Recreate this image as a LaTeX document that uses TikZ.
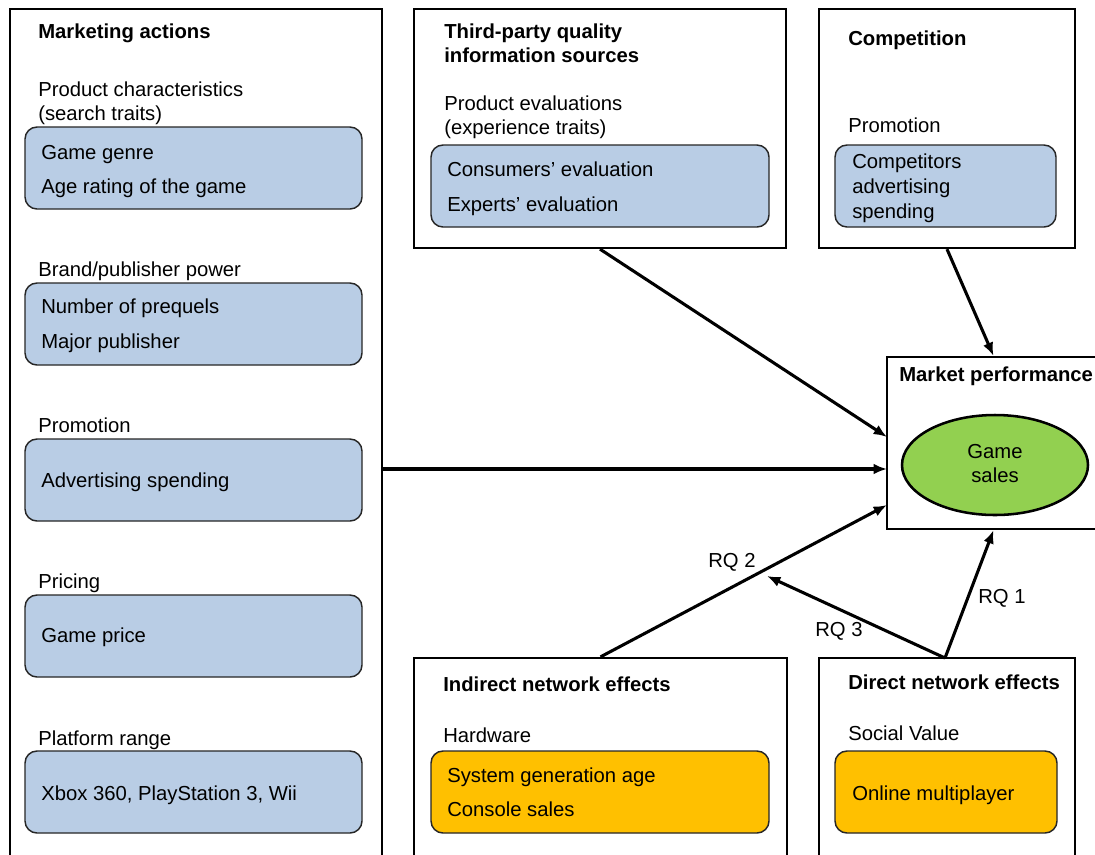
\documentclass[tikz,border=0pt]{standalone}
\usepackage{fontspec}
\setmainfont{Liberation Sans}
\usetikzlibrary{fit,arrows.meta}
\definecolor{boxblue}{HTML}{B9CDE5}
\definecolor{boxyellow}{HTML}{FFC000}
\definecolor{salesgreen}{HTML}{92D050}
\tikzset{
  outer/.style={draw=black, line width=1.7pt, inner sep=0pt, fill=white},
  innerblue/.style={draw=black!85, line width=1.1pt, rounded corners=9pt, fill=boxblue, inner sep=0pt},
  inneryellow/.style={draw=black!85, line width=1.1pt, rounded corners=9pt, fill=boxyellow, inner sep=0pt},
  txt/.style={anchor=base west, inner sep=0pt, font=\fontsize{15.2}{18}\selectfont},
  ttl/.style={anchor=base west, inner sep=0pt, font=\fontsize{15.2}{18}\selectfont\bfseries},
  conn/.style={line width=2.3pt, -{Latex[length=10pt,width=8pt]}},
}
\begin{document}
\begin{tikzpicture}[x=0.75pt,y=-0.75pt]
\useasboundingbox (0,0) rectangle (1095,854);
\clip (0,0) rectangle (1095,854);
% outer boxes
\node[outer, fit={(10,9) (382,900)}] (mkt) {};
\node[outer, fit={(414,9) (786,248)}] (tp) {};
\node[outer, fit={(819,9) (1075,248)}] (comp) {};
\node[outer, fit={(887,357) (1100,529)}] (mp) {};
\node[outer, fit={(414,658) (787,900)}] (ind) {};
\node[outer, fit={(819,658) (1075,900)}] (dir) {};
% marketing actions
\node[ttl] (mktt) at (38,38) {Marketing actions};
\node[txt] (pc1) at (38,96) {Product characteristics};
\node[txt] (pc2) at (38,120) {(search traits)};
\node[innerblue, fit={(25,127) (362,209)}] (pcb) {};
\node[txt] (pcb1) at (41,159) {Game genre};
\node[txt] (pcb2) at (41,193) {Age rating of the game};
\node[txt] (bp) at (38,276) {Brand/publisher power};
\node[innerblue, fit={(25,283) (362,365)}] (bpb) {};
\node[txt] (bpb1) at (41,313) {Number of prequels};
\node[txt] (bpb2) at (41,348) {Major publisher};
\node[txt] (pr) at (38,432) {Promotion};
\node[innerblue, fit={(25,439) (362,521)}] (prb) {};
\node[txt] (prb1) at (41,487) {Advertising spending};
\node[txt] (pi) at (38,588) {Pricing};
\node[innerblue, fit={(25,595) (362,677)}] (pib) {};
\node[txt] (pib1) at (41,642) {Game price};
\node[txt] (pl) at (38,745) {Platform range};
\node[innerblue, fit={(25,751) (362,833)}] (plb) {};
\node[txt] (plb1) at (41,800) {Xbox 360, PlayStation 3, Wii};
% third party
\node[ttl] (tpt1) at (444,38) {Third-party quality};
\node[ttl] (tpt2) at (444,62) {information sources};
\node[txt] (pe1) at (444,110) {Product evaluations};
\node[txt] (pe2) at (444,134) {(experience traits)};
\node[innerblue, fit={(431,145) (769,227)}] (peb) {};
\node[txt] (peb1) at (447,176) {Consumers’ evaluation};
\node[txt] (peb2) at (447,211) {Experts’ evaluation};
% competition
\node[ttl] (compt) at (848,45) {Competition};
\node[txt] (cpr) at (848,132) {Promotion};
\node[innerblue, fit={(835,145) (1056,227)}] (cprb) {};
\node[txt] (cprb1) at (852,168) {Competitors};
\node[txt] (cprb2) at (852,193) {advertising};
\node[txt] (cprb3) at (852,218) {spending};
% market performance
\node[ttl] (mpt) at (899,381) {Market performance};
\draw[fill=salesgreen, line width=1.9pt] (995,465) ellipse [x radius=93, y radius=50];
\node[inner sep=0pt, anchor=base, font=\fontsize{15.2}{18}\selectfont] (gs1) at (995,458) {Game};
\node[inner sep=0pt, anchor=base, font=\fontsize{15.2}{18}\selectfont] (gs2) at (995,482) {sales};
% indirect
\node[ttl] (indt) at (443,691) {Indirect network effects};
\node[txt] (hw) at (443,742) {Hardware};
\node[inneryellow, fit={(431,751) (769,833)}] (hwb) {};
\node[txt] (hwb1) at (447,782) {System generation age};
\node[txt] (hwb2) at (447,816) {Console sales};
% direct
\node[ttl] (dirt) at (848,689) {Direct network effects};
\node[txt] (sv) at (848,740) {Social Value};
\node[inneryellow, fit={(835,751) (1057,833)}] (svb) {};
\node[txt] (svb1) at (852,800) {Online multiplayer};
% connectors
\coordinate (mkR) at (382,469);
\coordinate (mpA) at (887,437);
\coordinate (mpB) at (887,469);
\coordinate (mpC) at (887,505);
\coordinate (dirTop) at (945,658);
\coordinate (rq3end) at (767,576);
\draw[conn] (tp.south) -- (mpA);
\draw[conn] (comp.south) -- (mp.north);
\draw[conn] (mkR) -- (mpB);
\draw[conn] (ind.north) -- (mpC);
\draw[conn] (dirTop) -- (mp.south);
\draw[conn] (dirTop) -- (rq3end);
\node[txt] (rq2) at (708,567) {RQ 2};
\node[txt] (rq3) at (815,636) {RQ 3};
\node[txt] (rq1) at (978,603) {RQ 1};
\end{tikzpicture}
\end{document}
